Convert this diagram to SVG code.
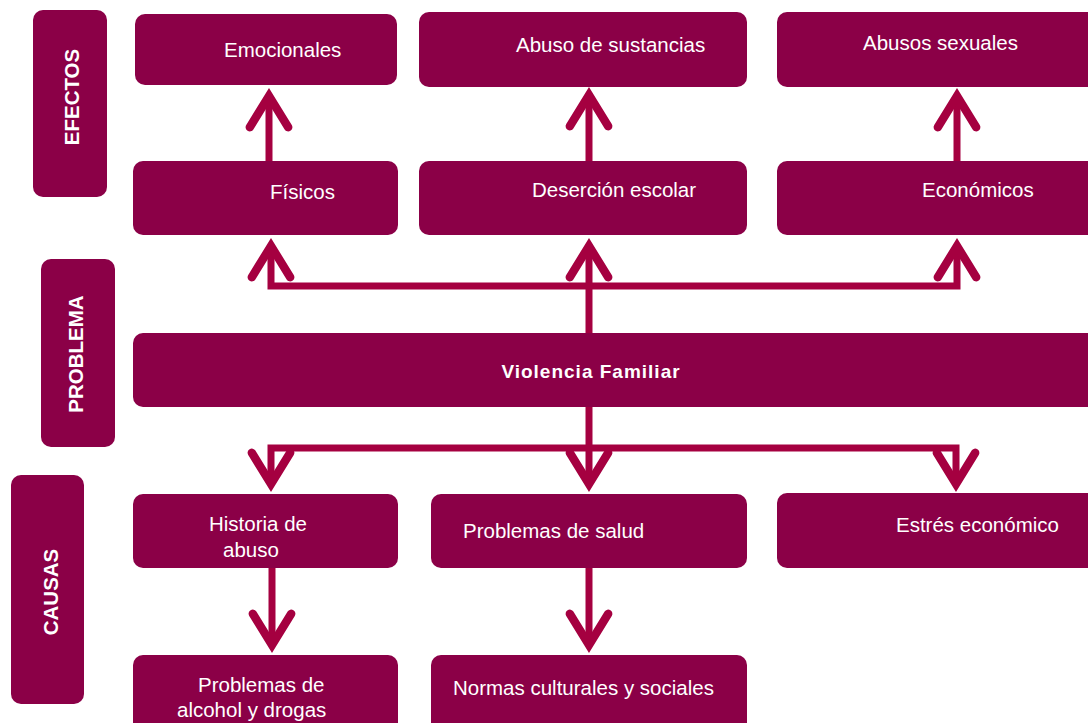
<svg xmlns="http://www.w3.org/2000/svg" width="1088" height="723" viewBox="0 0 1088 723">
<style>
.box{fill:#8B0047}
.t{font-family:"Liberation Sans",Arial,sans-serif;font-size:20.5px;fill:#ffffff}
.b{font-family:"Liberation Sans",Arial,sans-serif;font-weight:bold;fill:#ffffff}
.side{font-size:20.5px}
.c{fill:none;stroke:#A50040;stroke-width:7;stroke-linejoin:miter}
</style>
<defs>
<marker id="ah" markerUnits="userSpaceOnUse" orient="auto" refX="0" refY="0" markerWidth="60" markerHeight="60" viewBox="-35 -25 45 50" overflow="visible">
<path d="M -26 -16 L 0 0 L -26 16" fill="none" stroke="#A50040" stroke-width="7" stroke-linecap="round" stroke-linejoin="miter"/>
</marker>
</defs>
<rect width="1088" height="723" fill="#ffffff"/>

<g id="efectos"><rect class="box" x="33" y="10" width="74" height="187" rx="10"/><text class="b side" transform="translate(79,97) rotate(-90)" text-anchor="middle">EFECTOS</text></g>
<g id="problema"><rect class="box" x="41" y="259" width="74" height="188" rx="10"/><text class="b side" transform="translate(83,354) rotate(-90)" text-anchor="middle">PROBLEMA</text></g>
<g id="causas"><rect class="box" x="11" y="475" width="73" height="229" rx="10"/><text class="b side" transform="translate(58,592) rotate(-90)" text-anchor="middle">CAUSAS</text></g>

<g id="emocionales"><rect class="box" x="135" y="14" width="262" height="71" rx="10"/><text class="t" x="224" y="57">Emocionales</text></g>
<g id="abuso-sustancias"><rect class="box" x="419" y="12" width="328" height="75" rx="10"/><text class="t" x="516" y="52">Abuso de sustancias</text></g>
<g id="abusos-sexuales"><rect class="box" x="777" y="12" width="330" height="75" rx="10"/><text class="t" x="863" y="50">Abusos sexuales</text></g>

<g id="fisicos"><rect class="box" x="133" y="161" width="265" height="74" rx="10"/><text class="t" x="270" y="199">Físicos</text></g>
<g id="desercion"><rect class="box" x="419" y="161" width="328" height="74" rx="10"/><text class="t" x="532" y="197">Deserción escolar</text></g>
<g id="economicos"><rect class="box" x="777" y="161" width="330" height="74" rx="10"/><text class="t" x="922" y="197">Económicos</text></g>

<g id="violencia"><rect class="box" x="133" y="333" width="975" height="74" rx="10"/><text class="b" x="591" y="378" font-size="19" letter-spacing="1" text-anchor="middle">Violencia Familiar</text></g>

<g id="historia"><rect class="box" x="133" y="494" width="265" height="74" rx="10"/><text class="t" x="209" y="531">Historia de</text><text class="t" x="223" y="557">abuso</text></g>
<g id="salud"><rect class="box" x="431" y="494" width="316" height="74" rx="10"/><text class="t" x="463" y="538">Problemas de salud</text></g>
<g id="estres"><rect class="box" x="777" y="493" width="330" height="75" rx="10"/><text class="t" x="896" y="532">Estrés económico</text></g>

<g id="alcohol"><rect class="box" x="133" y="655" width="265" height="90" rx="10"/><text class="t" x="198" y="692">Problemas de</text><text class="t" x="177" y="717">alcohol y drogas</text></g>
<g id="normas"><rect class="box" x="431" y="655" width="316" height="90" rx="10"/><text class="t" x="453" y="695">Normas culturales y sociales</text></g>

<g id="connectors">
<path class="c" d="M 269 161 V 96" marker-end="url(#ah)"/>
<path class="c" d="M 589 161 V 95" marker-end="url(#ah)"/>
<path class="c" d="M 957 161 V 96" marker-end="url(#ah)"/>
<path class="c" d="M 589 333 V 246" marker-end="url(#ah)"/>
<path class="c" d="M 589 286 H 271 V 246" marker-end="url(#ah)"/>
<path class="c" d="M 589 286 H 957 V 246" marker-end="url(#ah)"/>
<path class="c" d="M 589 407 V 484" marker-end="url(#ah)"/>
<path class="c" d="M 589 448 H 271 V 484" marker-end="url(#ah)"/>
<path class="c" d="M 589 448 H 956 V 484" marker-end="url(#ah)"/>
<path class="c" d="M 272 568 V 645" marker-end="url(#ah)"/>
<path class="c" d="M 589 568 V 645" marker-end="url(#ah)"/>
</g>
</svg>
